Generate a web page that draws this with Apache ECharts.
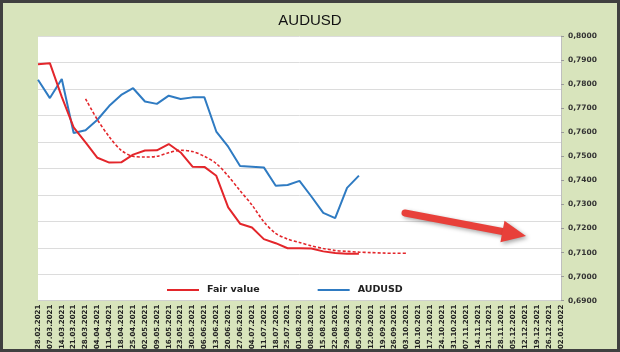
<!DOCTYPE html>
<html>
<head>
<meta charset="utf-8">
<script src="https://cdn.jsdelivr.net/npm/echarts@6/dist/echarts.min.js"></script>
<style>
html,body{margin:0;padding:0;background:#d8e4bc;}
#chart{width:620px;height:352px;}
</style>
</head>
<body>
<div id="chart"></div>
<script>
// weekly dates
var weeks = ['28.02.2021','07.03.2021','14.03.2021','21.03.2021','28.03.2021','04.04.2021','11.04.2021','18.04.2021','25.04.2021',
	'02.05.2021','09.05.2021','16.05.2021','23.05.2021','30.05.2021','06.06.2021','13.06.2021','20.06.2021','27.06.2021',
	'04.07.2021','11.07.2021','18.07.2021','25.07.2021','01.08.2021','08.08.2021','15.08.2021','22.08.2021','29.08.2021',
	'05.09.2021','12.09.2021','19.09.2021','26.09.2021','03.10.2021','10.10.2021','17.10.2021','24.10.2021','31.10.2021',
	'07.11.2021','14.11.2021','21.11.2021','28.11.2021','05.12.2021','12.12.2021','19.12.2021','26.12.2021','02.01.2022'];

var audusd = [0.7818,0.7742,0.7821,0.7597,0.7608,0.7652,0.7710,0.7755,0.7783,0.7728,0.7718,0.7752,0.7738,0.7745,
	0.7745,0.7603,0.7540,0.7460,0.7457,0.7454,0.7378,0.7381,0.7398,0.7333,0.7265,0.7243,0.7369,0.7420];

var fairValue = [0.7883,0.7887,0.7747,0.7620,0.7558,0.7494,0.7474,0.7475,0.7507,0.7524,0.7525,0.7551,0.7516,0.7457,
	0.7456,0.7419,0.7288,0.7220,0.7204,0.7156,0.7139,0.7118,0.7118,0.7117,0.7105,0.7098,0.7095,0.7095];

// dashed fair value trend, starts at 28.03.2021
var trendStart = 4;
var fairTrend = [0.7739,0.7652,0.7581,0.7525,0.7500,0.7497,0.7500,0.7515,0.7525,0.7520,0.7500,0.7470,0.7418,0.7357,
	0.7298,0.7228,0.7180,0.7156,0.7142,0.7128,0.7117,0.7109,0.7105,0.7102,0.7100,0.7098,0.7097,0.7097];

var yMin = 0.69, yMax = 0.80, yStep = 0.01;

function pad(arr, start){
	var out = [];
	for(var i=0;i<weeks.length;i++){
		var v = arr[i-start];
		out.push(v===undefined ? null : v);
	}
	return out;
}

var red = '#e3262b';
var blue = '#2f7bc2';

// arrow (annotation)
var a0 = [405,213], a1 = [526,236];
var ang = Math.atan2(a1[1]-a0[1], a1[0]-a0[0]);
var hl = 24, hw = 11;
var bx = a1[0]-hl*Math.cos(ang), by = a1[1]-hl*Math.sin(ang);
var px = -Math.sin(ang), py = Math.cos(ang);
var arrowShadow = {shadowBlur:4, shadowColor:'rgba(0,0,0,0.35)', shadowOffsetX:2, shadowOffsetY:2};

var myChart = echarts.init(document.getElementById('chart'));

var option = {
	backgroundColor:'#d8e4bc',
	animation:false,
	title:{
		text:'AUDUSD',
		left:'center',
		top:8,
		textStyle:{fontFamily:'Liberation Sans',fontSize:15,fontWeight:'normal',color:'#111'}
	},
	legend:{
		data:['Fair value','AUDUSD'],
		left:162,
		top:280,
		icon:'rect',
		itemWidth:32,
		itemHeight:2,
		itemGap:58,
		textStyle:{fontFamily:'DejaVu Sans',fontSize:9.5,fontWeight:'bold',color:'#222',padding:[0,0,0,3]}
	},
	grid:{
		left:38,
		right:59,
		top:36,
		bottom:50,
		show:true,
		backgroundColor:'#fff',
		borderWidth:0
	},
	xAxis:{
		type:'category',
		boundaryGap:false,
		data:weeks,
		axisLine:{lineStyle:{color:'#d0d0d0'}},
		axisTick:{show:false},
		axisLabel:{interval:0,rotate:90,margin:4,fontFamily:'DejaVu Sans',fontSize:7,fontWeight:'bold',color:'#222'}
	},
	yAxis:[
		{
			type:'value',
			position:'right',
			min:yMin,
			max:yMax,
			interval:yStep,
			axisLine:{show:true,lineStyle:{color:'#bfbfbf'}},
			axisTick:{show:true,length:3,lineStyle:{color:'#999'}},
			splitLine:{show:false},
			axisLabel:{
				margin:7,
				fontFamily:'DejaVu Sans',fontSize:7.5,fontWeight:'bold',color:'#333',
				formatter:function(v){ return v.toFixed(4).replace('.',','); }
			}
		},
		{
			// gridlines of the hidden primary axis
			type:'value',
			position:'left',
			min:0,
			max:10,
			interval:1,
			axisLine:{show:false},
			axisTick:{show:false},
			axisLabel:{show:false},
			splitLine:{lineStyle:{color:'#dcdcdc',width:1}}
		}
	],
	series:[
		{
			name:'Fair value',
			type:'line',
			yAxisIndex:0,
			data:pad(fairValue,0),
			symbol:'none',
			lineStyle:{color:red,width:2},
			itemStyle:{color:red},
			z:3
		},
		{
			name:'AUDUSD',
			type:'line',
			yAxisIndex:0,
			data:pad(audusd,0),
			symbol:'none',
			lineStyle:{color:blue,width:2},
			itemStyle:{color:blue},
			z:2
		},
		{
			name:'Fair value trend',
			type:'line',
			yAxisIndex:0,
			data:pad(fairTrend,trendStart),
			symbol:'none',
			smooth:0.3,
			lineStyle:{color:red,width:1.6,type:[3,2]},
			itemStyle:{color:red},
			z:3
		}
	],
	graphic:[
		{
			type:'rect',
			shape:{x:1.5,y:1.5,width:617,height:349},
			style:{fill:'none',stroke:'#404040',lineWidth:3},
			z:100
		},
		{
			type:'line',
			shape:{x1:a0[0],y1:a0[1],x2:bx,y2:by},
			style:Object.assign({stroke:'#e8403a',lineWidth:7,lineCap:'round'},arrowShadow),
			z:50
		},
		{
			type:'polygon',
			shape:{points:[[a1[0],a1[1]],[bx+px*hw,by+py*hw],[bx-px*hw,by-py*hw]]},
			style:Object.assign({fill:'#e8403a'},arrowShadow),
			z:51
		}
	]
};

myChart.setOption(option);
</script>
</body>
</html>
